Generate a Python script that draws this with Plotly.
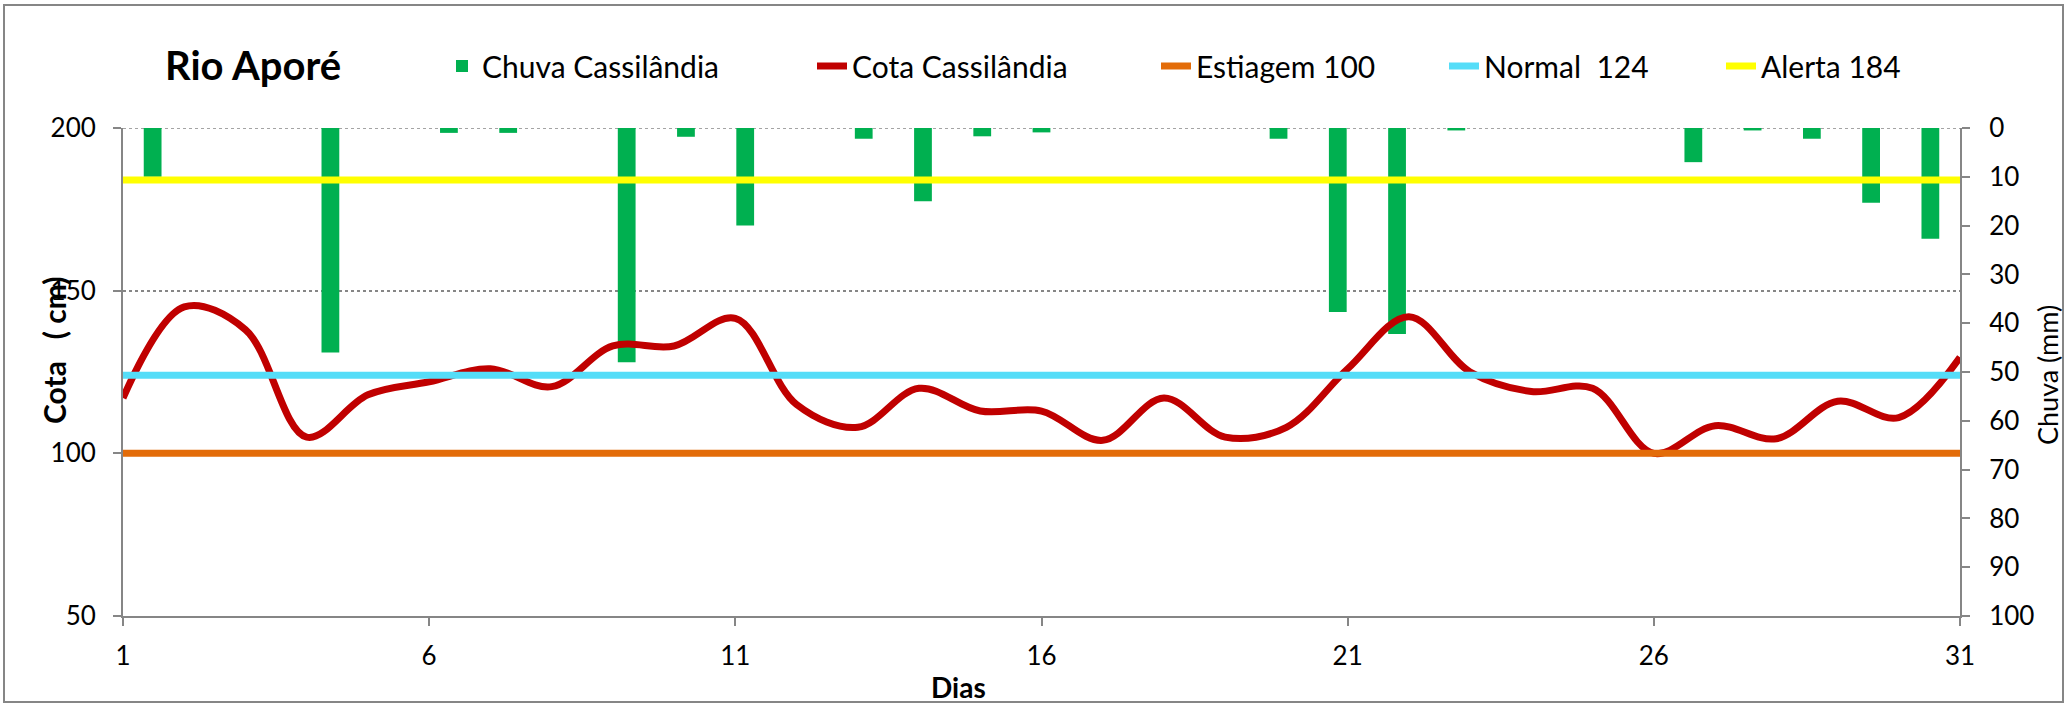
import plotly.graph_objects as go

# ---------------- data ----------------
days = list(range(1, 32))
chuva_mm = [10, 0, 0, 46, 0, 1, 1, 0, 48, 1.8, 20, 0, 2.2, 15, 1.7, 0.9, 0, 0, 0, 2.2,
            37.7, 42.2, 0.5, 0, 0, 0, 7, 0.5, 2.2, 15.3, 22.7]
cota_cm = [117, 145, 138, 105, 118, 122, 126, 120.5, 133, 133, 141.5, 115, 108, 120, 113,
           113, 104, 117, 105, 108, 126, 142, 125, 119, 120, 100, 108.5, 104.5, 116, 111, 129.5]
ESTIAGEM = 100
NORMAL = 124
ALERTA = 184
estiagem = [ESTIAGEM] * len(days)
normal = [NORMAL] * len(days)
alerta = [ALERTA] * len(days)

left_ticks = [50, 100, 150, 200]
right_ticks = [0, 10, 20, 30, 40, 50, 60, 70, 80, 90, 100]
x_ticks = [1, 6, 11, 16, 21, 26, 31]

# ---------------- style ----------------
FONT = "Lato, Carlito, Calibri, 'Open Sans', sans-serif"
GREY = "#868686"
W, H = 2072, 704
ML, MR, MT, MB = 123, 112, 128, 88
PW, PH = W - ML - MR, H - MT - MB


def px_x(p):
    return (p - ML) / PW


def px_y(p):
    return (H - MB - p) / PH


fig = go.Figure()

# bars (main subplot) drawn first -> below lines
fig.add_trace(go.Bar(x=days, y=chuva_mm, name="Chuva Cassilândia", width=0.3,
                     marker=dict(color="#00B050", line=dict(width=0)),
                     xaxis="x", yaxis="y", legend="legend"))

# lines on overlay subplot
fig.add_trace(go.Scatter(x=days, y=cota_cm, name="Cota Cassilândia", mode="lines",
                         line=dict(color="#C00000", width=7, shape="spline", smoothing=1.0),
                         xaxis="x2", yaxis="y2", legend="legend2"))
fig.add_trace(go.Scatter(x=days, y=estiagem, name="Estiagem 100", mode="lines",
                         line=dict(color="#E36C09", width=7),
                         xaxis="x2", yaxis="y2", legend="legend3"))
fig.add_trace(go.Scatter(x=days, y=normal, name="Normal\u00a0\u00a0124", mode="lines",
                         line=dict(color="#55DDF8", width=7),
                         xaxis="x2", yaxis="y2", legend="legend4"))
fig.add_trace(go.Scatter(x=days, y=alerta, name="Alerta 184", mode="lines",
                         line=dict(color="#FFFF00", width=7),
                         xaxis="x2", yaxis="y2", legend="legend5"))

legend_font = dict(family=FONT, size=30, color="black")
leg_y = px_y(66)


def leg(xpx):
    return dict(x=px_x(xpx), y=leg_y, xanchor="left", yanchor="middle",
                orientation="h", font=legend_font, bgcolor="rgba(0,0,0,0)",
                borderwidth=0)


tick_font = dict(family=FONT, size=26, color="black")

fig.update_layout(
    width=W, height=H,
    margin=dict(l=ML, r=MR, t=MT, b=MB),
    paper_bgcolor="white", plot_bgcolor="white",
    font=dict(family=FONT, size=26, color="black"),
    showlegend=True,
    barmode="overlay",
    title=dict(text="<b>Rio Aporé</b>", x=px_x(165), xref="paper", xanchor="left",
               y=1 - 66 / H, yref="container", yanchor="middle",
               font=dict(family=FONT, size=40, color="black")),
    legend=leg(442),
    legend2=leg(812),
    legend3=leg(1156),
    legend4=leg(1444),
    legend5=leg(1721),
    xaxis=dict(range=[0.5, 31.5], visible=False, fixedrange=True),
    yaxis=dict(range=[100, 0], side="right", tickvals=right_ticks,
               showline=True, linecolor=GREY, linewidth=2,
               ticks="outside", ticklen=8, tickcolor=GREY, tickwidth=2,
               ticklabelstandoff=14, showgrid=False, zeroline=False,
               tickfont=tick_font),
    xaxis2=dict(range=[1, 31], overlaying="x", anchor="y2", side="bottom",
                tickvals=x_ticks, showline=True, linecolor=GREY, linewidth=2,
                ticks="outside", ticklen=8, tickcolor=GREY, tickwidth=2,
                ticklabelstandoff=8, showgrid=False, zeroline=False,
                tickfont=tick_font),
    yaxis2=dict(range=[50, 200], overlaying="y", anchor="x2", side="left",
                tickvals=left_ticks, showline=True, linecolor=GREY, linewidth=2,
                ticks="outside", ticklen=8, tickcolor=GREY, tickwidth=2,
                ticklabelstandoff=12, showgrid=True, gridcolor=GREY,
                griddash="dot", gridwidth=1.5, zeroline=False,
                tickfont=tick_font),
    annotations=[
        dict(text="<b>Cota\u00a0\u00a0\u00a0( cm)</b>", x=px_x(54), y=px_y(350),
             xref="paper", yref="paper", textangle=-90, showarrow=False,
             xanchor="center", yanchor="middle",
             font=dict(family=FONT, size=30, color="black")),
        dict(text="Chuva (mm)", x=px_x(2047), y=px_y(375),
             xref="paper", yref="paper", textangle=-90, showarrow=False,
             xanchor="center", yanchor="middle",
             font=dict(family=FONT, size=27, color="black")),
        dict(text="<b>Dias</b>", x=px_x(958), y=px_y(687),
             xref="paper", yref="paper", showarrow=False,
             xanchor="center", yanchor="middle",
             font=dict(family=FONT, size=28, color="black")),
    ],
    shapes=[
        dict(type="rect", xref="paper", yref="paper",
             x0=px_x(4), x1=px_x(2063), y0=px_y(702), y1=px_y(5),
             line=dict(color=GREY, width=2), fillcolor="rgba(0,0,0,0)", layer="below"),
        # top dotted gridline at the highest left tick (plotly omits it at the edge)
        dict(type="line", xref="paper", yref="y2", x0=0, x1=1,
             y0=left_ticks[-1], y1=left_ticks[-1],
             line=dict(color=GREY, width=1.5, dash="dot"), layer="below"),
    ],
)

fig.write_html("out.html", config={"displayModeBar": False},
               post_script="document.body.style.margin='0px';")
